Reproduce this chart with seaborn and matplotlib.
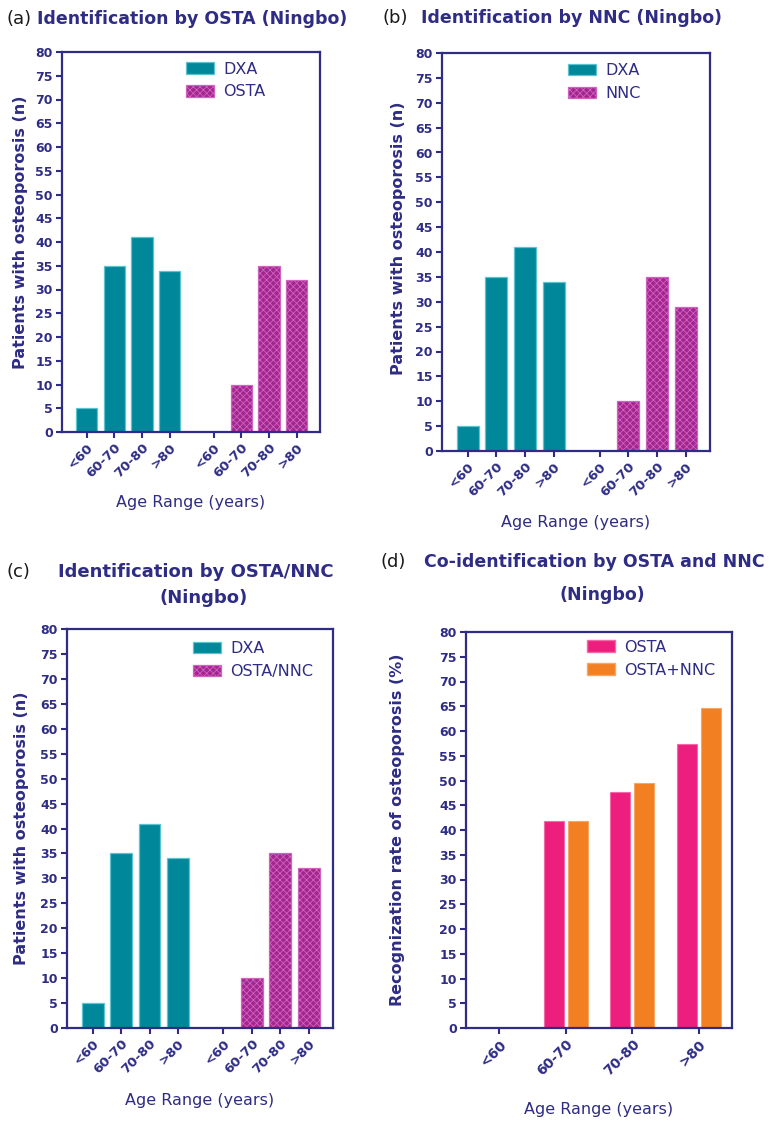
import matplotlib
matplotlib.use("Agg")
import matplotlib.pyplot as plt
from matplotlib.patches import Patch
import seaborn as sns
import pandas as pd

# ---- data -------------------------------------------------------------
age_groups = ["<60", "60-70", "70-80", ">80"]
dxa_counts = [5, 35, 41, 34]
osta_counts = [0, 10, 35, 32]
nnc_counts = [0, 10, 35, 29]
osta_nnc_counts = [0, 10, 35, 32]
osta_rate = [0, 41.9, 47.6, 57.4]
osta_plus_nnc_rate = [0, 41.9, 49.5, 64.7]

# ---- style ------------------------------------------------------------
sns.set_theme(style="white")
plt.rcParams["font.family"] = ["DejaVu Sans"]
plt.rcParams["hatch.linewidth"] = 0.6

NAVY = "#2e2c84"
TEAL = "#00879a"
TEAL_EDGE = "#5cc4d0"
MAGENTA = "#a3268f"
MAGENTA_EDGE = "#cf63bf"
PINK = "#ec1e7e"
PINK_EDGE = "#f36aa6"
ORANGE = "#f27f22"
ORANGE_EDGE = "#f7a666"

GROUP_OFFSET = 4.6  # start of the second group of bars


def style_axes(ax, ylabel, ylab_xy, xlab_y):
    ax.set_ylim(0, 80)
    ax.set_yticks(range(0, 81, 5))
    for s in ax.spines.values():
        s.set_visible(True)
        s.set_color(NAVY)
        s.set_linewidth(1.6)
    ax.tick_params(axis="both", direction="out", length=4.5, width=1.5,
                   color=NAVY, labelcolor=NAVY, labelsize=9,
                   left=True, bottom=True, pad=2)
    for lab in ax.get_yticklabels():
        lab.set_fontweight("bold")
    ax.set_ylabel(ylabel, color=NAVY, fontsize=11.5, fontweight="bold")
    ax.set_xlabel("Age Range (years)", color=NAVY, fontsize=11.5)
    ax.yaxis.set_label_coords(*ylab_xy)
    ax.xaxis.set_label_coords(0.5, xlab_y)


def set_xticks(ax, positions, labels, size=9.5):
    ax.set_xticks(positions)
    ax.set_xticklabels(labels, rotation=45, ha="right",
                       rotation_mode="anchor", fontweight="bold",
                       fontsize=size, color=NAVY)


def add_legend(ax, handles, labels, x, y):
    ax.legend(handles, labels, loc="upper left", bbox_to_anchor=(x, y),
              frameon=False, fontsize=11.5, labelcolor=NAVY,
              handlelength=1.75, handleheight=0.75, handletextpad=0.6,
              labelspacing=0.5, borderpad=0, borderaxespad=0)


def count_panel(ax, second_label, second_counts, legend_xy, ylab_xy, xlab_y):
    positions = list(range(4)) + [GROUP_OFFSET + i for i in range(4)]
    df = pd.DataFrame({
        "pos": positions,
        "count": dxa_counts + second_counts,
        "method": ["DXA"] * 4 + [second_label] * 4,
    })
    sns.barplot(data=df, x="pos", y="count", hue="method",
                hue_order=["DXA", second_label], native_scale=True,
                dodge=False, width=0.77, palette=[TEAL, MAGENTA],
                saturation=1, legend=False, ax=ax)
    for p in ax.containers[0]:
        p.set_edgecolor(TEAL_EDGE)
        p.set_linewidth(0.9)
    for p in ax.containers[1]:
        p.set_edgecolor(MAGENTA_EDGE)
        p.set_linewidth(0.9)
        p.set_hatch("xxxxx")
    ax.set_xlim(-0.9, GROUP_OFFSET + 3 + 0.85)
    style_axes(ax, "Patients with osteoporosis (n)", ylab_xy, xlab_y)
    set_xticks(ax, positions, age_groups * 2)
    handles = [Patch(facecolor=TEAL, edgecolor=TEAL_EDGE, linewidth=0.9),
               Patch(facecolor=MAGENTA, edgecolor=MAGENTA_EDGE,
                     linewidth=0.9, hatch="xxxxx")]
    add_legend(ax, handles, ["DXA", second_label], *legend_xy)


W, H = 783, 1122
fig = plt.figure(figsize=(W / 100, H / 100), dpi=100)


def axes_px(left, top, right, bottom):
    return fig.add_axes([left / W, 1 - bottom / H,
                         (right - left) / W, (bottom - top) / H])


ax_a = axes_px(62, 52, 320, 432)
ax_b = axes_px(442, 53, 710, 451)
ax_c = axes_px(67, 629, 333, 1028)
ax_d = axes_px(466, 632, 732, 1028)

count_panel(ax_a, "OSTA", osta_counts, (0.48, 0.975), (-0.132, 0.525), -0.166)
count_panel(ax_b, "NNC", nnc_counts, (0.47, 0.975), (-0.134, 0.535), -0.161)
count_panel(ax_c, "OSTA/NNC", osta_nnc_counts, (0.474, 0.97), (-0.143, 0.5), -0.163)

# ---- panel d: recognition rate ----------------------------------------
df_d = pd.DataFrame({
    "age": age_groups * 2,
    "rate": osta_rate + osta_plus_nnc_rate,
    "method": ["OSTA"] * 4 + ["OSTA+NNC"] * 4,
})
sns.barplot(data=df_d, x="age", y="rate", hue="method",
            order=age_groups, hue_order=["OSTA", "OSTA+NNC"],
            palette=[PINK, ORANGE], width=0.72, gap=0.17, saturation=1,
            legend=False, ax=ax_d)
for p in ax_d.containers[0]:
    p.set_edgecolor(PINK_EDGE)
    p.set_linewidth(0.8)
for p in ax_d.containers[1]:
    p.set_edgecolor(ORANGE_EDGE)
    p.set_linewidth(0.8)
ax_d.set_xlim(-0.5, 3.5)
style_axes(ax_d, "Recognization rate of osteoporosis (%)", (-0.229, 0.5), -0.187)
set_xticks(ax_d, range(4), age_groups, size=10)
add_legend(ax_d,
           [Patch(facecolor=PINK, edgecolor=PINK_EDGE),
            Patch(facecolor=ORANGE, edgecolor=ORANGE_EDGE)],
           ["OSTA", "OSTA+NNC"], 0.455, 0.98)

# ---- panel titles -----------------------------------------------------
def fig_text(x, y, s, **kw):
    fig.text(x / W, 1 - y / H, s, va="center", **kw)

TITLE = dict(color=NAVY, fontsize=12.5, fontweight="bold")
TAG = dict(color="#1a1a1a", fontsize=13)

fig_text(6, 19, "(a)", ha="left", **TAG)
fig_text(37, 19, "Identification by OSTA (Ningbo)", ha="left", **TITLE)
fig_text(382, 18, "(b)", ha="left", **TAG)
fig_text(421, 18, "Identification by NNC (Ningbo)", ha="left", **TITLE)
fig_text(6, 572, "(c)", ha="left", **TAG)
fig_text(196, 572, "Identification by OSTA/NNC", ha="center", fontsize=13,
         color=NAVY, fontweight="bold")
fig_text(204, 598, "(Ningbo)", ha="center", fontsize=13, color=NAVY,
         fontweight="bold")
fig_text(380, 562, "(d)", ha="left", **TAG)
fig_text(594, 562, "Co-identification by OSTA and NNC", ha="center", **TITLE)
fig_text(602, 595, "(Ningbo)", ha="center", **TITLE)

fig.savefig("out.png", dpi=100)
